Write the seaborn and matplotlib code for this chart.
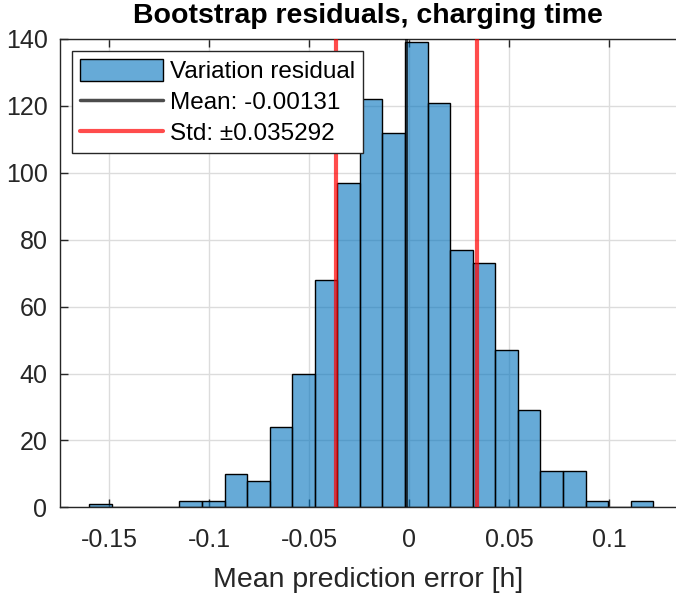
import numpy as np
import pandas as pd
import matplotlib
matplotlib.use("Agg")
import matplotlib.pyplot as plt
import seaborn as sns
from matplotlib.patches import Patch
from matplotlib.lines import Line2D

# ---- data ----
bin_start = -0.1599
bin_width = 0.01128
counts = [1, 0, 0, 0, 2, 2, 10, 8, 24, 40, 68, 97, 122, 112, 139, 121,
          77, 73, 47, 29, 11, 11, 2, 0, 2]
mean_val = -0.00131
std_val = 0.035292
xticks = [-0.15, -0.1, -0.05, 0, 0.05, 0.1]
xtick_labels = ["-0.15", "-0.1", "-0.05", "0", "0.05", "0.1"]
yticks = [0, 20, 40, 60, 80, 100, 120, 140]
title = "Bootstrap residuals, charging time"
xlabel = "Mean prediction error [h]"
legend_labels = ["Variation residual", "Mean: -0.00131", "Std: \u00b10.035292"]

edges = [float(bin_start + bin_width * i) for i in range(len(counts) + 1)]
centers = [(edges[i] + edges[i + 1]) / 2 for i in range(len(counts))]
df = pd.DataFrame({"x": centers, "w": counts})

sns.set_style("white")
plt.rcParams["font.family"] = ["Liberation Sans", "DejaVu Sans"]

fig = plt.figure(figsize=(6.76, 5.96), dpi=100)
ax = fig.add_axes([60 / 676, 1 - 507.3 / 596, 1 - 60 / 676, (507.3 - 39) / 596])

bar_rgb = (0.0, 0.447, 0.741)
sns.histplot(data=df, x="x", weights="w", bins=edges, ax=ax,
             color=bar_rgb, alpha=0.6, edgecolor="black", linewidth=1.0,
             zorder=2)

ax.axvline(mean_val, color="black", alpha=0.7, linewidth=2.2, zorder=3)
ax.axvline(mean_val - std_val, color="red", alpha=0.7, linewidth=3, zorder=3)
ax.axvline(mean_val + std_val, color="red", alpha=0.7, linewidth=3, zorder=3)

ax.set_xlim(-0.1745, 0.1335)
ax.set_ylim(0, 140)
ax.set_xticks(xticks)
ax.set_xticklabels(xtick_labels)
ax.set_yticks(yticks)
ax.grid(True, color="#dcdcdc", linewidth=1.0, zorder=0)
ax.set_axisbelow(True)

for s in ["left", "bottom", "top"]:
    ax.spines[s].set_visible(True)
    ax.spines[s].set_color("#262626")
    ax.spines[s].set_linewidth(1.0)
ax.spines["right"].set_visible(False)
ax.tick_params(axis="both", direction="in", length=6, width=1.0,
               color="#262626", labelsize=18, labelcolor="#262626",
               top=True, right=False, left=True, bottom=True)
ax.tick_params(axis="x", pad=15)
ax.tick_params(axis="y", pad=9)

ax.set_title(title, fontsize=20.5, fontweight="bold", pad=11.5, color="black")
ax.set_xlabel(xlabel, fontsize=20.5, color="#262626")
ax.xaxis.set_label_coords(0.5, -0.128)
ax.set_ylabel("")

handles = [Patch(facecolor=bar_rgb + (0.6,), edgecolor="black", linewidth=1.0),
           Line2D([0], [0], color="black", alpha=0.7, linewidth=2.5),
           Line2D([0], [0], color="red", alpha=0.7, linewidth=3)]
leg = ax.legend(handles, legend_labels, loc="upper left",
                bbox_to_anchor=(12 / 616, 1 - 12 / 468.3), fontsize=17.5,
                frameon=True, fancybox=False, edgecolor="#262626",
                handlelength=3.4, handleheight=1.0, handletextpad=0.3,
                labelspacing=0.28, borderpad=0.33, borderaxespad=0)
leg.get_frame().set_linewidth(1.0)
leg.get_frame().set_alpha(1.0)
for t in leg.get_texts():
    t.set_color("black")

fig.savefig("out.png", dpi=100)
